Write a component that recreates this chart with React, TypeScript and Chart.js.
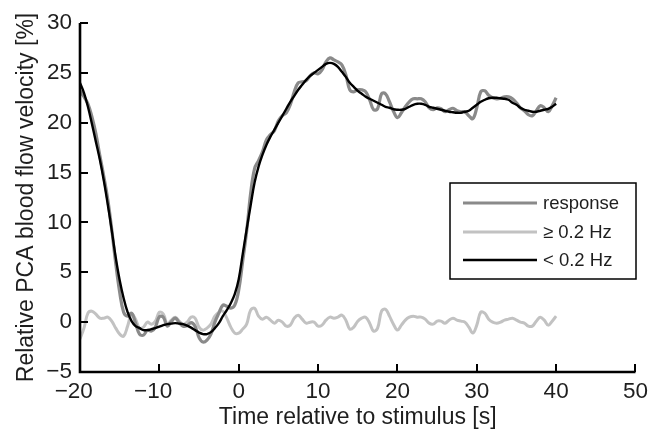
import React, { useEffect, useRef } from "react";
import { Chart, registerables } from "chart.js";

Chart.register(...registerables);

// Time axis (s) relative to stimulus
const times: number[] = [
  -20, -19.5, -19, -18.5, -18, -17.5, -17, -16.5, -16, -15.5,
  -15, -14.5, -14, -13.5, -13, -12.5, -12, -11.5, -11, -10.5,
  -10, -9.5, -9, -8.5, -8, -7.5, -7, -6.5, -6, -5.5,
  -5, -4.5, -4, -3.5, -3, -2.5, -2, -1.5, -1, -0.5,
  0, 0.5, 1, 1.5, 2, 2.5, 3, 3.5, 4, 4.5,
  5, 5.5, 6, 6.5, 7, 7.5, 8, 8.5, 9, 9.5,
  10, 10.5, 11, 11.5, 12, 12.5, 13, 13.5, 14, 14.5,
  15, 15.5, 16, 16.5, 17, 17.5, 18, 18.5, 19, 19.5,
  20, 20.5, 21, 21.5, 22, 22.5, 23, 23.5, 24, 24.5,
  25, 25.5, 26, 26.5, 27, 27.5, 28, 28.5, 29, 29.5,
  30, 30.5, 31, 31.5, 32, 32.5, 33, 33.5, 34, 34.5,
  35, 35.5, 36, 36.5, 37, 37.5, 38, 38.5, 39, 39.5,
  40,
];

// "response" (grey)
const response: number[] = [
  23.2, 22.6, 21.9, 20.6, 18.9, 16.7, 14.6, 12.3, 9.3, 5.9,
  3.0, 1.0, 0.6, 0.9, -0.1, -1.2, -1.3, -0.8, -0.9, -0.5,
  0.55, 0.5, -0.4, 0.05, 0.4, -0.05, -0.4, -0.35, -0.05, -0.4,
  -1.55, -2.0, -1.8, -1.2, 0.0, 0.9, 1.7, 1.6, 1.4, 1.7,
  3.2, 6.1, 9.1, 12.9, 15.4, 16.2, 17.1, 18.3, 18.8, 19.2,
  20.2, 20.7, 21.0, 21.8, 23.1, 24.0, 24.1, 24.2, 24.7, 25.0,
  24.9, 25.3, 26.1, 26.5, 26.3, 26.1, 25.8, 24.8, 23.3, 23.1,
  23.3, 23.3, 23.1, 22.3, 21.3, 21.4, 22.9, 22.9, 22.1, 21.15,
  20.5, 21.0, 21.6, 22.1, 22.4, 22.4, 22.4, 22.1, 21.5, 21.3,
  21.5, 21.4, 21.1, 21.3, 21.45, 21.2, 21.1, 21.1, 20.7, 20.4,
  21.5, 23.1, 23.2, 22.75, 22.5, 22.4, 22.45, 22.6, 22.6, 22.4,
  22.0, 21.5, 21.2, 20.8, 20.7, 21.2, 21.7, 21.5, 21.1, 21.7,
  22.5,
];

// ">= 0.2 Hz" component (light grey)
const highFreq: number[] = [
  -1.7, -0.6, 0.9, 1.1, 0.8, 0.4, 0.4, 0.5, 0.1, -0.6,
  -1.2, -1.4, -0.4, 0.8, 0.3, -0.6, -0.5, 0.0, -0.2, 0.1,
  1.0, 0.8, -0.2, 0.2, 0.5, 0.1, -0.2, 0.0, 0.5, 0.4,
  -0.5, -0.8, -0.6, -0.2, 0.6, 1.0, 1.1, 0.4, -0.5, -1.1,
  -1.1, -0.7, -0.2, 1.2, 1.4, 0.6, 0.3, 0.5, 0.2, -0.1,
  0.2, 0.0, -0.4, -0.3, 0.4, 0.7, 0.3, -0.1, 0.0, 0.0,
  -0.4, -0.3, 0.2, 0.5, 0.4, 0.5, 0.7, 0.2, -0.7, -0.5,
  0.1, 0.4, 0.5, -0.1, -0.9, -0.6, 1.1, 1.3, 0.6, -0.2,
  -0.8, -0.3, 0.2, 0.5, 0.6, 0.5, 0.5, 0.3, -0.1, -0.2,
  0.1, 0.1, -0.1, 0.2, 0.4, 0.2, 0.1, 0.0, -0.5, -1.1,
  -0.3, 1.0, 0.9, 0.3, 0.0, -0.1, 0.0, 0.2, 0.3, 0.4,
  0.2, 0.0, -0.1, -0.4, -0.4, 0.1, 0.5, 0.2, -0.3, 0.1,
  0.6,
];

// "< 0.2 Hz" component (black)
const lowFreq: number[] = [
  24.0, 23.0, 21.6, 19.9, 18.1, 16.3, 14.2, 11.8, 9.2, 6.5,
  4.2, 2.4, 1.0, 0.1, -0.4, -0.6, -0.8, -0.8, -0.7, -0.6,
  -0.45, -0.3, -0.2, -0.15, -0.1, -0.15, -0.2, -0.35, -0.55, -0.8,
  -1.05, -1.2, -1.2, -1.0, -0.6, -0.1, 0.6, 1.2, 1.9, 2.8,
  4.3, 6.8, 9.3, 11.7, 14.0, 15.6, 16.8, 17.8, 18.6, 19.3,
  20.0, 20.7, 21.4, 22.1, 22.7, 23.3, 23.8, 24.3, 24.7, 25.0,
  25.3, 25.6, 25.9, 26.0, 25.9, 25.6, 25.1, 24.6, 24.0, 23.6,
  23.2, 22.9, 22.6, 22.4, 22.2, 22.0, 21.8, 21.6, 21.5, 21.35,
  21.3, 21.3, 21.4, 21.6, 21.8, 21.9, 21.9, 21.8, 21.6, 21.5,
  21.4, 21.3, 21.2, 21.1, 21.05, 21.0, 21.0, 21.1, 21.2, 21.5,
  21.8, 22.1, 22.3, 22.45, 22.5, 22.5, 22.45, 22.4, 22.3, 22.0,
  21.8, 21.5, 21.3, 21.2, 21.1, 21.1, 21.2, 21.3, 21.4, 21.6,
  21.9,
];

const seriesLabels = ["response", "\u2265 0.2 Hz", "< 0.2 Hz"];
const seriesColors = ["#8a8a8a", "#c2c2c2", "#000000"];
const seriesWidths = [3.2, 3.0, 2.4];

const xTitle = "Time relative to stimulus [s]";
const yTitle = "Relative PCA blood flow velocity [%]";

const FONT = "'Liberation Sans', Arial, Helvetica, sans-serif";
const TEXT = "#1e1e1e";

// negative x labels: digits centred on the tick, minus hanging to the left
const fmtX = (v: any) => (Number(v) < 0 ? String(v).replace("-", "\u2212") + "\u2007" : String(v));
const fmtY = (v: any) => String(v).replace("-", "\u2212");

const axesPlugin = {
  id: "matlabAxes",
  afterDatasetsDraw(chart: any) {
    const { ctx, chartArea } = chart;
    const xs = chart.scales.x;
    const ys = chart.scales.y;
    ctx.save();
    ctx.strokeStyle = "#000";
    ctx.lineCap = "butt";
    ctx.lineWidth = 2;
    ctx.beginPath();
    xs.ticks.forEach((t: any) => {
      const px = Math.round(xs.getPixelForValue(t.value));
      ctx.moveTo(px, chartArea.bottom);
      ctx.lineTo(px, chartArea.bottom - 8);
    });
    ys.ticks.forEach((t: any) => {
      const py = Math.round(ys.getPixelForValue(t.value));
      ctx.moveTo(chartArea.left, py);
      ctx.lineTo(chartArea.left + 8, py);
    });
    ctx.stroke();
    ctx.lineWidth = 2.6;
    ctx.beginPath();
    ctx.moveTo(chartArea.left, chartArea.top);
    ctx.lineTo(chartArea.left, chartArea.bottom);
    ctx.lineTo(chartArea.right, chartArea.bottom);
    ctx.stroke();

    // legend box
    const bx = 450, by = 183, bw = 186, bh = 96;
    ctx.fillStyle = "#fff";
    ctx.fillRect(bx, by, bw, bh);
    ctx.lineWidth = 1.5;
    ctx.strokeRect(bx, by, bw, bh);
    const rows = [203, 232, 260];
    chart.data.datasets.forEach((ds: any, i: number) => {
      ctx.strokeStyle = ds.borderColor;
      ctx.lineWidth = ds.borderWidth;
      ctx.beginPath();
      ctx.moveTo(463, rows[i]);
      ctx.lineTo(537, rows[i]);
      ctx.stroke();
      ctx.fillStyle = TEXT;
      ctx.font = `18.5px ${FONT}`;
      ctx.textAlign = "left";
      ctx.textBaseline = "middle";
      ctx.fillText(ds.label, 543, rows[i] + 1);
    });
    ctx.restore();
  },
};

export default function App() {
  const ref = useRef<HTMLCanvasElement | null>(null);

  useEffect(() => {
    if (!ref.current) return;
    const mk = (vals: number[]) => times.map((t, i) => ({ x: t, y: vals[i] }));
    const order = [response, highFreq, lowFreq];
    const chart = new Chart(ref.current, {
      type: "line",
      data: {
        datasets: order.map((vals, i) => ({
          label: seriesLabels[i],
          data: mk(vals),
          borderColor: seriesColors[i],
          backgroundColor: seriesColors[i],
          borderWidth: seriesWidths[i],
          pointRadius: 0,
          tension: 0.4,
          fill: false,
          order: i === 1 ? 3 : i === 0 ? 2 : 1,
        })),
      },
      options: {
        animation: false,
        responsive: false,
        devicePixelRatio: 1,
        layout: { padding: { top: 23, right: 14, left: 0, bottom: 0 }, autoPadding: false } as any,
        plugins: {
          legend: { display: false },
          tooltip: { enabled: false },
        },
        scales: {
          x: {
            type: "linear",
            min: -20,
            max: 50,
            grid: { display: false, drawTicks: false },
            border: { display: false },
            ticks: {
              stepSize: 10,
              padding: 6,
              color: TEXT,
              font: { family: FONT, size: 22.5 },
              maxRotation: 0,
              callback: fmtX,
            },
            title: {
              display: true,
              text: xTitle,
              color: TEXT,
              font: { family: FONT, size: 23 },
              padding: { top: 0, bottom: 3 },
            },
            afterFit: (s: any) => {
              s.height = 62;
            },
          },
          y: {
            type: "linear",
            min: -5,
            max: 30,
            grid: { display: false, drawTicks: false },
            border: { display: false },
            ticks: {
              stepSize: 5,
              padding: 8,
              color: TEXT,
              font: { family: FONT, size: 22.5 },
              callback: fmtY,
            },
            title: {
              display: true,
              text: yTitle,
              color: TEXT,
              font: { family: FONT, size: 23 },
              padding: { top: 13, bottom: 0 },
            },
            afterFit: (s: any) => {
              s.width = 80;
            },
          },
        },
      },
      plugins: [axesPlugin],
    });
    return () => chart.destroy();
  }, []);

  return (
    <div style={{ position: "absolute", left: 0, top: 0, width: 654, height: 434, background: "#fff" }}>
      <canvas ref={ref} width={654} height={434} style={{ display: "block" }} />
    </div>
  );
}
